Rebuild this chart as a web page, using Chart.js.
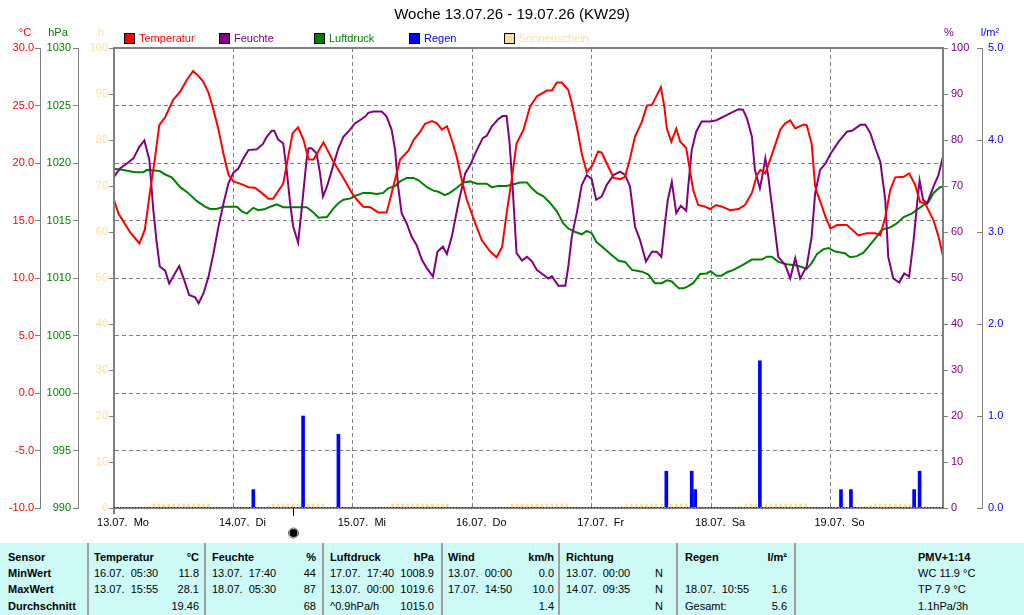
<!DOCTYPE html>
<html>
<head>
<meta charset="utf-8">
<script src="https://cdn.jsdelivr.net/npm/chart.js@4/dist/chart.umd.min.js"></script>
<style>
  body { margin: 0; background: #fff; font-family: "Liberation Sans", Arial, sans-serif; }
  #wrap { position: relative; width: 1024px; height: 615px; overflow: hidden; }
  #c { position: absolute; left: 0; top: 0; }
  #tbl { position: absolute; left: 0; top: 543px; width: 1024px; height: 72px; background: #cdf9f7; font-size: 11px; }
  #tbl .t { position: absolute; white-space: pre; line-height: 13px; color: #000; }
  #tbl .b { font-weight: bold; }
  #tbl .sep { position: absolute; top: 0; width: 2px; height: 72px; background: #a0a0a0; }
</style>
</head>
<body>
<div id="wrap">
  <canvas id="c" width="1024" height="543"></canvas>
  <div id="tbl"></div>
</div>
<script>
// x values are hours since 13.07. 00:00
const dayTicks = [0, 24, 48, 72, 96, 120, 144];
const dayLabels = ['13.07.  Mo', '14.07.  Di', '15.07.  Mi', '16.07.  Do', '17.07.  Fr', '18.07.  Sa', '19.07.  So'];
const lastHour = 166.6;

const tempHours = [0,0.9,1.9,3.2,5.1,6.2,7.2,8.2,9.1,10.3,11.9,13.3,14.6,15.9,16.9,17.9,19.0,20.0,21.0,22.0,23.0,24.0,26.0,27.0,28.3,29.7,31.0,32.0,34.0,35.9,37.0,38.1,39.1,40.1,42.1,44.1,46.1,47.8,48.8,50.1,51.5,53.1,54.8,56.1,57.5,59.2,60.2,61.5,62.5,63.9,64.9,65.9,66.9,67.9,68.9,69.9,70.9,72.6,73.9,75.6,76.9,78.0,78.9,79.9,80.9,82.3,83.6,85.0,87.0,88.0,89.0,90.0,91.3,92.0,93.0,94.0,95.0,96.0,97.3,98.0,99.0,100.4,101.7,102.7,103.7,104.7,106.1,107.1,108.1,109.1,109.9,110.6,111.1,112.0,113.0,113.8,115.0,115.6,116.4,117.4,118.8,119.8,121.0,122.2,123.8,125.5,126.8,128.2,129.2,129.9,130.9,132.2,133.9,134.9,135.9,136.9,138.6,139.2,140.2,140.9,141.3,142.3,143.0,144.0,145.3,147.3,149.6,151.3,153.0,154.0,155.0,156.0,157.0,158.7,159.8,161.0,162.0,163.0,164.7,165.7,166.6];
const tempValues = [16.8,15.6,14.9,14.0,13.0,14.2,17.4,20.3,23.3,24.0,25.5,26.2,27.2,28.0,27.6,27.1,26.1,24.6,22.9,20.8,19.0,18.4,18.1,17.9,17.85,17.4,16.9,16.9,18.2,22.6,23.1,22.0,20.3,20.3,21.8,20.1,18.7,17.4,16.8,16.2,16.15,15.7,15.7,17.9,20.3,21.1,22.0,22.7,23.4,23.65,23.45,22.9,23.2,22.0,20.5,18.5,16.8,14.75,13.3,12.3,11.8,12.7,15.6,18.5,21.7,22.9,24.9,25.8,26.3,26.3,27.0,27.0,26.35,25.2,23.2,20.8,19.2,19.7,21.0,20.9,20.0,18.7,18.6,18.8,20.4,22.3,23.6,25.0,25.05,25.9,26.6,24.9,23.0,21.85,23.0,21.85,21.3,19.7,17.65,16.35,16.2,16.0,16.35,16.2,15.9,16.0,16.35,17.4,18.95,19.4,19.1,20.7,22.9,23.45,23.7,23.0,23.35,23.3,21.7,18.0,17.4,16.2,15.3,14.3,14.6,14.6,13.7,13.9,13.9,13.7,15.3,17.65,18.75,18.8,19.1,18.1,16.6,16.5,15.0,13.6,11.9];

const humHours = [0,1.2,2.6,3.9,5.1,6.1,7.1,7.9,8.6,9.2,10.3,11.1,12.1,13.1,14.1,15.1,16.3,17.0,18.0,19.0,20.0,21.0,22.0,23.0,24.0,25.0,26.0,27.0,28.7,29.9,30.7,31.7,32.2,33.0,34.0,34.7,35.4,36.0,37.0,37.7,38.7,39.1,39.7,40.7,41.4,42.0,42.8,43.8,45.1,46.1,47.4,48.4,49.4,50.5,51.1,52.1,53.8,54.8,55.8,56.5,57.1,57.8,58.8,59.8,60.8,61.9,62.9,64.1,65.0,66.1,66.9,67.9,69.2,70.6,71.6,72.6,74.1,74.9,75.9,77.2,78.1,78.9,79.5,80.1,80.9,82.0,83.0,84.0,85.0,86.3,87.3,88.0,89.3,90.7,91.3,92.0,93.0,94.0,95.0,96.0,96.9,98.0,99.0,100.4,101.7,102.7,103.7,104.7,105.7,106.9,108.1,109.1,110.0,110.8,111.3,112.1,113.0,113.9,115.0,115.4,116.1,117.0,118.1,119.8,121.1,122.5,123.8,125.5,126.4,127.2,128.2,128.8,129.8,130.4,130.9,131.5,132.5,133.5,134.9,135.9,136.9,137.9,139.2,140.2,140.9,141.9,143.0,144.0,145.6,147.3,148.3,150.0,151.0,152.0,153.0,154.0,155.0,155.6,156.6,157.8,158.8,159.8,160.7,161.4,161.9,162.6,163.4,164.7,165.7,166.6];
const humValues = [72.0,73.8,74.9,76.0,78.5,79.9,75.7,64.8,57.5,52.5,51.6,48.8,50.7,52.6,49.6,46.3,45.8,44.5,46.7,50.3,55.4,61.2,66.2,70.6,72.9,73.8,76.0,77.8,78.0,79.1,80.7,82.0,82.0,80.1,79.3,73.5,66.2,61.2,57.7,64.8,75.7,78.2,78.2,77.1,72.8,67.7,69.9,73.5,78.2,80.7,82.2,83.6,84.3,85.1,85.9,86.2,86.2,85.1,82.2,77.8,69.9,64.1,61.9,59.0,57.2,53.9,52.1,50.3,55.7,56.8,55.2,59.0,66.2,72.8,74.6,77.1,80.4,80.9,82.9,84.5,85.2,85.2,79.3,69.9,55.4,53.8,54.6,53.6,51.7,50.7,49.9,50.4,48.3,48.3,52.5,59.0,64.1,70.2,72.4,71.5,67.0,67.7,70.2,72.4,73.1,72.4,69.9,61.2,58.3,53.6,55.7,55.7,54.6,62.6,67.0,70.9,64.1,65.7,64.6,69.9,77.8,81.8,84.0,84.0,84.3,85.1,85.8,86.7,86.6,84.7,80.7,73.5,69.5,72.8,76.0,72.0,63.3,54.6,52.8,49.9,54.3,49.9,52.5,59.0,68.4,73.5,74.9,77.0,79.6,81.8,82.0,83.3,83.3,81.5,78.2,75.3,67.0,54.6,49.9,49.0,51.0,50.3,58.3,66.2,71.2,67.0,66.2,69.9,72.4,76.4];

const pressHours = [0,1.9,4.2,5.9,6.6,9.2,10.3,11.6,13.3,14.9,16.6,18.3,19.3,20.6,22.0,24.7,25.7,26.7,28.0,29.0,30.4,31.4,32.7,34.0,38.7,40.1,41.1,42.8,44.1,45.1,46.1,47.4,48.8,50.1,51.5,52.8,54.1,55.1,56.5,57.5,58.8,60.2,61.2,62.9,64.2,65.2,66.5,67.5,68.9,70.2,71.6,72.9,74.9,75.9,77.2,78.9,80.3,81.6,83.0,84.0,85.0,86.3,87.6,89.0,90.3,91.3,92.7,94.0,95.0,96.0,97.0,98.4,99.7,101.4,102.7,104.1,106.1,107.4,108.7,110.1,111.1,112.1,113.5,114.5,115.4,116.4,117.8,119.1,119.9,121.1,122.1,123.2,124.5,126.2,128.2,130.2,131.2,132.2,133.5,135.2,136.9,137.9,139.2,140.2,141.3,142.6,143.6,144.9,146.9,147.9,149.3,150.6,151.6,153.0,154.3,156.0,157.3,158.7,160.3,161.3,162.7,163.7,164.7,166.0,166.6];
const pressValues = [1019.5,1019.4,1019.2,1019.2,1019.4,1019.3,1019.0,1018.75,1017.9,1017.4,1016.7,1016.2,1016.0,1016.0,1016.2,1016.2,1015.8,1015.6,1016.1,1015.9,1016.0,1016.2,1016.4,1016.15,1016.15,1015.7,1015.25,1015.3,1016.05,1016.5,1016.8,1016.9,1017.2,1017.4,1017.4,1017.3,1017.4,1017.8,1018.0,1018.4,1018.7,1018.7,1018.5,1017.9,1017.6,1017.5,1017.2,1017.4,1017.85,1018.3,1018.4,1018.2,1018.2,1017.9,1018.0,1018.0,1018.15,1018.3,1018.3,1017.8,1017.4,1017.1,1016.55,1015.8,1014.75,1014.3,1014.0,1013.8,1014.1,1013.9,1013.1,1012.6,1012.1,1011.5,1011.4,1010.7,1010.55,1010.3,1009.55,1009.55,1009.8,1009.7,1009.1,1009.1,1009.3,1009.55,1010.35,1010.4,1010.6,1010.2,1010.2,1010.5,1010.7,1011.1,1011.6,1011.6,1011.85,1011.85,1011.4,1011.2,1011.1,1011.0,1010.8,1011.3,1012.1,1012.5,1012.6,1012.3,1012.15,1011.8,1011.9,1012.2,1012.7,1013.45,1014.2,1014.4,1014.75,1015.3,1015.6,1015.9,1016.35,1016.6,1017.4,1017.9,1017.95];

const rainHours = [28.0, 38.0, 45.1, 111.0, 116.1, 116.8, 129.8, 146.1, 148.1, 160.8, 161.9];
const rainValues = [0.2, 1.0, 0.8, 0.4, 0.4, 0.2, 1.6, 0.2, 0.2, 0.2, 0.4];

const sunHours = [7,8,9,10,11,12,13,14,15,16,17,18,19,
  31,32,33,34,35,36,37,38,39,40,41,42,
  55,56,57,58,59,60,61,62,63,64,65,66,67,
  79,80,81,82,83,84,85,86,87,88,89,90,91,
  102,103,104,105,106,107,108,109,110,111,112,113,114,115,
  126,127,128,129,130,131,132,133,134,135,136,137,138,139,
  151,152,153,154,155,156,157,158,159,160,163];
const sunValues = [0.4,0.9,0.9,0.9,0.9,0.9,0.9,0.9,0.9,0.9,0.9,0.9,0.9,
  0.4,0.9,0.9,0.9,0.9,0.9,0.9,0.9,0.9,0.9,0.9,0.9,
  0.4,0.9,0.9,0.9,0.9,0.9,0.9,0.9,0.9,0.9,0.9,0.9,0.9,
  0.4,0.9,0.9,0.9,0.9,0.9,0.9,0.9,0.9,0.9,0.9,0.9,0.9,
  0.4,0.7,0.9,0.9,0.9,0.9,0.9,0.9,0.9,0.9,0.9,0.9,0.9,0.9,
  0.4,0.9,0.9,0.9,0.9,0.9,0.9,0.9,0.9,0.9,0.9,0.9,0.9,0.9,
  0.4,0.6,0.9,0.9,0.9,0.9,0.9,0.9,0.9,0.9,0.4];

const markerHour = 36;

const legendNames = ['Temperatur', 'Feuchte', 'Luftdruck', 'Regen', 'Sonnenschein'];
const colors = { temp: '#ff0000', hum: '#800080', press: '#008000', rain: '#0000ff', sun: '#ffdf9f', grid: '#808080' };
const legendColors = [colors.temp, colors.hum, colors.press, colors.rain, colors.sun];

const tableHead = [['Sensor',''],['Temperatur','°C'],['Feuchte','%'],['Luftdruck','hPa'],['Wind','km/h'],['Richtung',''],['Regen','l/m²'],['PMV+1:14','']];
const tableMin = [['MinWert',''],['16.07.  05:30','11.8'],['13.07.  17:40','44'],['17.07.  17:40','1008.9'],['13.07.  00:00','0.0'],['13.07.  00:00','N'],['',''],['WC 11.9 °C','']];
const tableMax = [['MaxWert',''],['13.07.  15:55','28.1'],['18.07.  05:30','87'],['13.07.  00:00','1019.6'],['17.07.  14:50','10.0'],['14.07.  09:35','N'],['18.07.  10:55','1.6'],['TP 7.9 °C','']];
const tableAvg = [['Durchschnitt',''],['','19.46'],['','68'],['^0.9hPa/h','1015.0'],['','1.4'],['','N'],['Gesamt:','5.6'],['1.1hPa/3h','']];

const FONT = '"Liberation Sans", Arial, sans-serif';
Chart.defaults.font.family = FONT;
Chart.defaults.font.size = 11;

const pts = (xs, ys) => xs.map((x, i) => ({ x: x, y: ys[i] }));

function sideAxis(pos, weight, width, min, max, step, color, pad, fmt, showBorder, ticksOn = true) {
    return {
        position: pos, weight: weight, min: min, max: max,
        afterFit: (s) => { s.width = width; },
        ticks: { stepSize: step, color: color, padding: pad, autoSkip: false, callback: fmt },
        grid: { drawOnChartArea: false, drawTicks: ticksOn, tickLength: 5, color: colors.grid, lineWidth: 1 },
        border: { display: showBorder, color: colors.grid, width: 1 },
    };
}

const decor = {
    id: 'decor',
    afterDraw(chart) {
        const { ctx, chartArea: a, scales } = chart;
        ctx.save();
        // frame
        ctx.setLineDash([]);
        ctx.strokeStyle = colors.grid;
        ctx.lineWidth = 2;
        ctx.strokeRect(a.left, a.top, a.right - a.left, a.bottom - a.top);
        ctx.beginPath();
        ctx.moveTo(a.left, a.bottom);
        ctx.lineTo(a.left, a.bottom + 6);
        ctx.stroke();
        // rain axis tick marks point inwards (left of its line)
        const r = scales.yR;
        ctx.lineWidth = 1;
        r.ticks.forEach(t => {
            const y = Math.round(r.getPixelForValue(t.value)) + 0.5;
            ctx.beginPath();
            ctx.moveTo(r.left - 5, y);
            ctx.lineTo(r.left, y);
            ctx.stroke();
        });
        // rain zero line
        const y0 = r.getPixelForValue(0) - 1;
        ctx.strokeStyle = colors.rain;
        ctx.setLineDash([1, 2]);
        ctx.beginPath();
        ctx.moveTo(a.left, y0 + 0.5);
        ctx.lineTo(a.right, y0 + 0.5);
        ctx.stroke();
        ctx.setLineDash([]);

        // title
        ctx.fillStyle = '#000';
        ctx.textBaseline = 'middle';
        ctx.textAlign = 'center';
        ctx.font = '15px ' + FONT;
        ctx.fillText('Woche 13.07.26 - 19.07.26 (KW29)', 512, 15);

        // axis units
        ctx.font = '11px ' + FONT;
        [['°C', 25, colors.temp], ['hPa', 58, colors.press], ['h', 101, colors.sun], ['%', 949, colors.hum], ['l/m²', 990, colors.rain]]
            .forEach(([t, x, c]) => { ctx.fillStyle = c; ctx.fillText(t, x, 33); });

        // legend
        ctx.textAlign = 'left';
        legendNames.forEach((name, i) => {
            const x = 124 + i * 95;
            ctx.fillStyle = legendColors[i];
            ctx.fillRect(x, 33, 10, 10);
            ctx.strokeStyle = '#000';
            ctx.lineWidth = 1;
            ctx.strokeRect(x + 0.5, 33.5, 10, 10);
            ctx.fillStyle = legendColors[i];
            ctx.fillText(name, x + 15, 38.5);
        });

        // marker below the axis
        const mx = Math.round(scales.x.getPixelForValue(markerHour)) + 0.5;
        ctx.strokeStyle = '#000';
        ctx.beginPath();
        ctx.moveTo(mx, a.bottom);
        ctx.lineTo(mx, a.bottom + 8);
        ctx.stroke();
        ctx.fillStyle = '#000';
        ctx.beginPath();
        ctx.arc(mx, 533, 4, 0, Math.PI * 2);
        ctx.fill();
        ctx.strokeStyle = '#606060';
        ctx.beginPath();
        ctx.arc(mx, 533, 5, 0, Math.PI * 2);
        ctx.stroke();
        ctx.restore();
    }
};

new Chart(document.getElementById('c'), {
    type: 'line',
    data: {
        datasets: [
            { label: 'Temperatur', data: pts(tempHours, tempValues), yAxisID: 'yT', borderColor: colors.temp, borderWidth: 2, pointRadius: 0, tension: 0, order: 1 },
            { label: 'Feuchte', data: pts(humHours, humValues), yAxisID: 'yH', borderColor: colors.hum, borderWidth: 2, pointRadius: 0, tension: 0, order: 2 },
            { label: 'Luftdruck', data: pts(pressHours, pressValues), yAxisID: 'yP', borderColor: colors.press, borderWidth: 2, pointRadius: 0, tension: 0, order: 3 },
            { type: 'bar', label: 'Regen', data: pts(rainHours, rainValues), yAxisID: 'yR', backgroundColor: colors.rain, barThickness: 3, grouped: false, order: 4 },
            { type: 'bar', label: 'Sonnenschein', data: pts(sunHours, sunValues), yAxisID: 'yS', backgroundColor: colors.sun, barThickness: 2, grouped: false, order: 5 },
        ]
    },
    options: {
        responsive: false,
        animation: false,
        layout: { padding: { top: 48, left: 0, right: 0, bottom: 0 } },
        plugins: { legend: { display: false }, tooltip: { enabled: false } },
        scales: {
            x: {
                type: 'linear', min: 0, max: lastHour, offset: false,
                afterFit: (s) => { s.height = 35; },
                afterBuildTicks: (s) => { s.ticks = dayTicks.map(v => ({ value: v })); },
                ticks: { color: '#000', padding: 8, labelOffset: 9, autoSkip: false, maxRotation: 0,
                         callback: (v, i) => dayLabels[i] },
                grid: { offset: false, drawTicks: false, color: colors.grid, lineWidth: 1 },
                border: { display: false, dash: [4, 3] },
            },
            yT: Object.assign(sideAxis('left', 2, 40, -10, 30, 5, colors.temp, 1, v => v.toFixed(1), true), {
                grid: { drawOnChartArea: true, drawTicks: true, tickLength: 5, color: colors.grid, lineWidth: 1, tickColor: colors.grid },
                border: { display: true, color: colors.grid, width: 1, dash: [4, 3] },
            }),
            yP: sideAxis('left', 1, 38, 990, 1030, 5, colors.press, 2, v => v, true),
            yS: sideAxis('left', 0, 36, 0, 100, 10, colors.sun, 1, v => v, false),
            yH: sideAxis('right', 0, 39, 0, 100, 10, colors.hum, 3, v => v, false),
            yR: sideAxis('right', 1, 42, 0, 5, 1, colors.rain, 6, v => v.toFixed(1), true, false),
        }
    },
    plugins: [decor]
});

// statistics table below the chart
const tbl = document.getElementById('tbl');
const colLeft = [8, 94, 212, 330, 448, 566, 685, 918];
const colRight = [null, 199, 316, 434, 554, 663, 787, null];
const rowTop = [7.5, 24, 40, 56.5];
[tableHead, tableMin, tableMax, tableAvg].forEach((row, r) => {
    row.forEach(([left, right], c) => {
        const bold = r === 0 || c === 0;
        if (left) {
            const d = document.createElement('div');
            d.className = 't' + (bold ? ' b' : '');
            d.style.left = colLeft[c] + 'px';
            d.style.top = rowTop[r] + 'px';
            d.textContent = left;
            tbl.appendChild(d);
        }
        if (right) {
            const d = document.createElement('div');
            d.className = 't' + (bold ? ' b' : '');
            d.style.right = (1024 - colRight[c]) + 'px';
            d.style.top = rowTop[r] + 'px';
            d.textContent = right;
            tbl.appendChild(d);
        }
    });
});
[88, 205, 323, 442, 559, 677, 795].forEach(x => {
    const s = document.createElement('div');
    s.className = 'sep';
    s.style.left = (x - 1) + 'px';
    tbl.appendChild(s);
});
</script>
</body>
</html>
